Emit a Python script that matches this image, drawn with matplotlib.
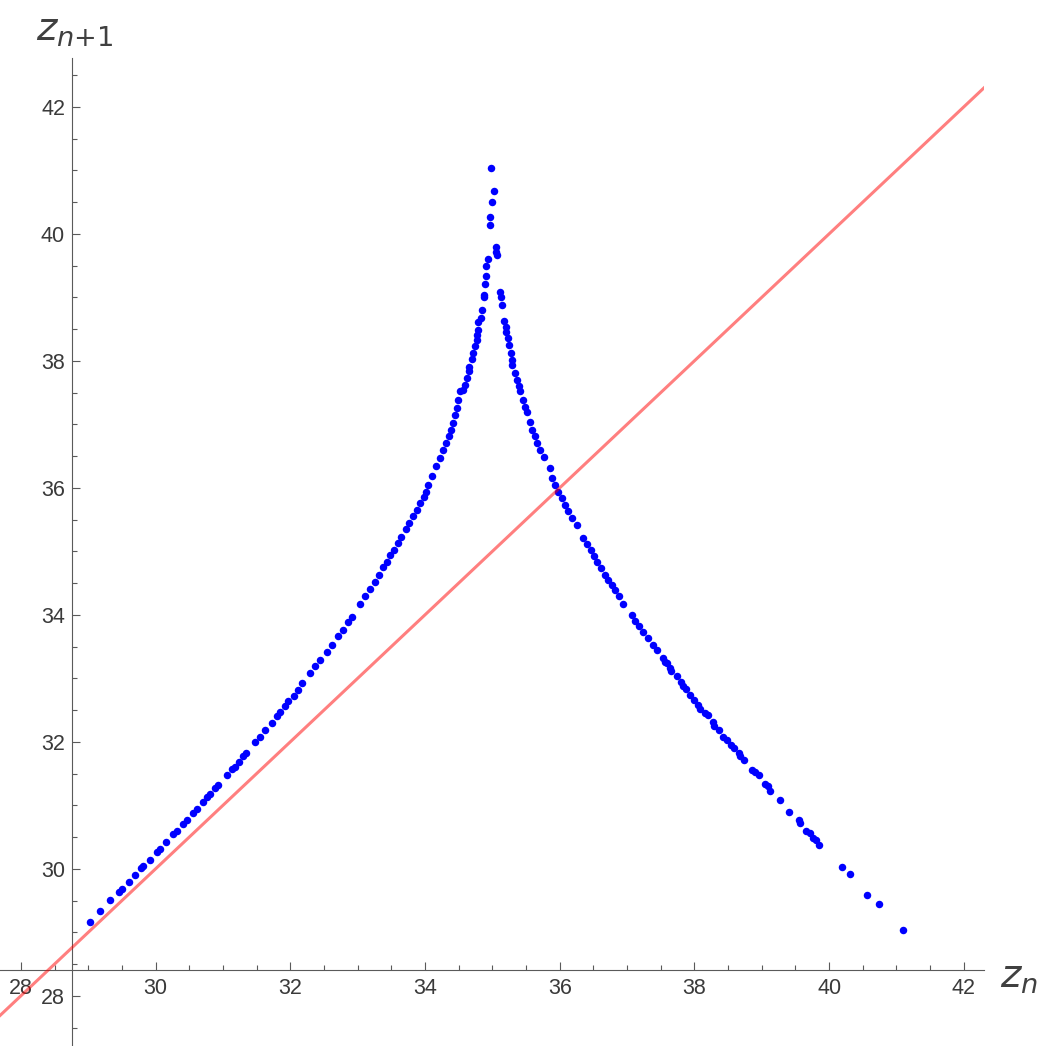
import matplotlib
matplotlib.use("Agg")
import matplotlib.pyplot as plt
from matplotlib.ticker import MultipleLocator

plt.rcParams['font.family'] = ['Liberation Sans', 'DejaVu Sans']
plt.rcParams['mathtext.fontset'] = 'dejavusans'

# --- successive maxima z_n -> z_{n+1} ---
# left branch (rising towards the cusp)
left_zn = [29.03, 29.18, 29.33, 29.45, 29.50, 29.60, 29.70, 29.79, 29.82, 29.92,
           30.02, 30.06, 30.16, 30.26, 30.32, 30.41, 30.47, 30.56, 30.61, 30.70,
           30.76, 30.81, 30.88, 30.92, 31.06, 31.13, 31.18, 31.24, 31.30, 31.34,
           31.48, 31.55, 31.63, 31.73, 31.80, 31.85, 31.92, 31.97, 32.05, 32.12,
           32.17, 32.29, 32.37, 32.44, 32.54, 32.62, 32.71, 32.79, 32.86, 32.91,
           33.03, 33.11, 33.18, 33.26, 33.31, 33.38, 33.43, 33.48, 33.54, 33.60,
           33.65, 33.72, 33.77, 33.82, 33.88, 33.93, 33.98, 34.01, 34.05, 34.10,
           34.17, 34.22, 34.27, 34.31, 34.35, 34.38, 34.41, 34.45, 34.47, 34.49,
           34.52, 34.57, 34.60, 34.63, 34.65, 34.66, 34.70, 34.71, 34.74, 34.77,
           34.77, 34.79, 34.79, 34.83, 34.85, 34.88, 34.88, 34.89, 34.91, 34.91,
           34.93, 34.97, 34.97, 35.00, 35.02, 34.98]
left_zn1 = [29.17, 29.34, 29.51, 29.63, 29.69, 29.80, 29.91, 30.01, 30.04, 30.14,
            30.26, 30.31, 30.42, 30.55, 30.59, 30.71, 30.77, 30.88, 30.94, 31.06,
            31.13, 31.18, 31.27, 31.32, 31.48, 31.57, 31.61, 31.69, 31.77, 31.82,
            32.00, 32.08, 32.19, 32.29, 32.40, 32.47, 32.57, 32.64, 32.72, 32.82,
            32.92, 33.08, 33.19, 33.29, 33.42, 33.53, 33.66, 33.76, 33.88, 33.96,
            34.17, 34.29, 34.40, 34.52, 34.63, 34.75, 34.84, 34.94, 35.02, 35.13,
            35.23, 35.35, 35.44, 35.55, 35.65, 35.76, 35.86, 35.94, 36.05, 36.18,
            36.34, 36.47, 36.60, 36.70, 36.81, 36.91, 37.02, 37.15, 37.26, 37.39,
            37.52, 37.54, 37.62, 37.73, 37.84, 37.91, 38.03, 38.13, 38.23, 38.33,
            38.41, 38.49, 38.61, 38.68, 38.80, 39.00, 39.04, 39.21, 39.34, 39.50,
            39.61, 40.14, 40.26, 40.50, 40.68, 41.04]

# right branch (falling away from the cusp)
right_zn = [35.05, 35.06, 35.07, 35.11, 35.13, 35.14, 35.17, 35.20, 35.21, 35.23,
            35.24, 35.27, 35.29, 35.29, 35.34, 35.37, 35.40, 35.41, 35.46, 35.49,
            35.52, 35.56, 35.59, 35.63, 35.67, 35.71, 35.76, 35.85, 35.89, 35.93,
            35.98, 36.03, 36.08, 36.13, 36.18, 36.26, 36.35, 36.41, 36.46, 36.51,
            36.56, 36.61, 36.67, 36.71, 36.77, 36.82, 36.88, 36.94, 37.07, 37.12,
            37.18, 37.24, 37.31, 37.38, 37.44, 37.53, 37.56, 37.59, 37.64, 37.66,
            37.74, 37.80, 37.83, 37.88, 37.93, 37.99, 38.06, 38.09, 38.16, 38.20,
            38.27, 38.29, 38.37, 38.43, 38.49, 38.54, 38.59, 38.66, 38.68, 38.73,
            38.85, 38.90, 38.96, 39.05, 39.10, 39.12, 39.27, 39.40, 39.55, 39.57,
            39.65, 39.71, 39.76, 39.81, 39.85, 40.19, 40.31, 40.56, 40.74, 41.09]
right_zn1 = [39.80, 39.72, 39.67, 39.08, 39.00, 38.88, 38.63, 38.54, 38.45, 38.36,
             38.25, 38.12, 38.02, 37.94, 37.81, 37.70, 37.60, 37.52, 37.39, 37.28,
             37.19, 37.04, 36.91, 36.81, 36.71, 36.60, 36.48, 36.31, 36.15, 36.05,
             35.94, 35.84, 35.73, 35.63, 35.52, 35.41, 35.21, 35.12, 35.02, 34.93,
             34.84, 34.74, 34.63, 34.55, 34.47, 34.39, 34.29, 34.17, 34.00, 33.91,
             33.82, 33.73, 33.63, 33.53, 33.44, 33.32, 33.26, 33.24, 33.16, 33.11,
             33.03, 32.95, 32.88, 32.83, 32.74, 32.66, 32.58, 32.52, 32.46, 32.43,
             32.32, 32.25, 32.19, 32.08, 32.03, 31.95, 31.90, 31.83, 31.78, 31.72,
             31.56, 31.53, 31.48, 31.34, 31.30, 31.23, 31.08, 30.90, 30.77, 30.72,
             30.60, 30.57, 30.49, 30.46, 30.38, 30.03, 29.92, 29.59, 29.45, 29.04]

x_ticks = [28, 30, 32, 34, 36, 38, 40, 42]
y_ticks = [28, 30, 32, 34, 36, 38, 40, 42]

fig = plt.figure(figsize=(10.42, 10.46), dpi=100)
ax = fig.add_axes([0.0, 0.0, 984 / 1042, 988 / 1046])

ax.plot(left_zn + right_zn, left_zn1 + right_zn1, 'o', color='#0000ff',
        ms=5.4, mec='none', zorder=2)
ax.axline((28, 28), slope=1, color='red', alpha=0.5, lw=2.2, zorder=3)

ax.set_xlim(27.69, 42.30)
ax.set_ylim(27.21, 42.77)

# Mathematica-style crossing axes
ax.spines['top'].set_visible(False)
ax.spines['right'].set_visible(False)
ax.spines['left'].set_position(('data', 28.76))
ax.spines['bottom'].set_position(('data', 28.41))
for s in ('left', 'bottom'):
    ax.spines[s].set_color('#5a5a5a')
    ax.spines[s].set_linewidth(0.8)

ax.set_xticks(x_ticks)
ax.set_yticks(y_ticks)
ax.xaxis.set_minor_locator(MultipleLocator(0.5))
ax.yaxis.set_minor_locator(MultipleLocator(0.5))
ax.tick_params(which='both', direction='in', color='#5a5a5a', width=0.8,
               labelsize=15.5, labelcolor='#3a3a3a')
ax.tick_params(which='major', length=5.5)
ax.tick_params(which='minor', length=3.5)
ax.tick_params(axis='x', pad=6)
ax.tick_params(axis='y', pad=5)
ax.patch.set_alpha(0)

fig.text(36 / 1042, 1 - 41 / 1046, r'$z_{n{+}1}$', fontsize=28, color='#404040',
         ha='left', va='baseline')
fig.text(1000 / 1042, 1 - 988 / 1046, r'$z_n$', fontsize=28, color='#404040',
         ha='left', va='baseline')

fig.savefig('out.png', dpi=100)
